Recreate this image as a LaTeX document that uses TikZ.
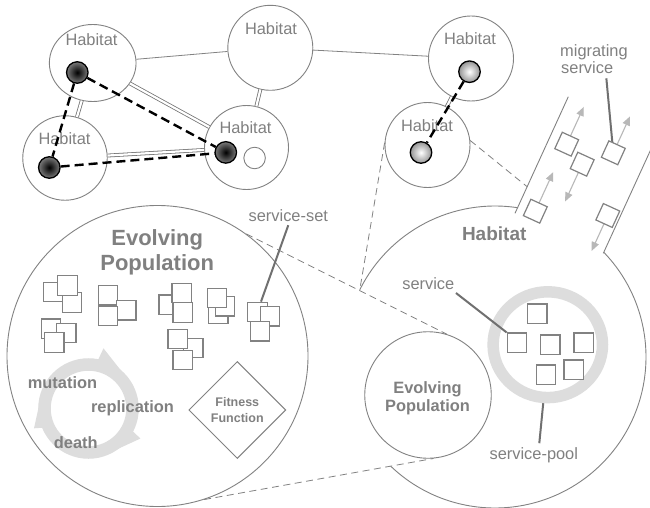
\documentclass[tikz,border=0pt]{standalone}
\usepackage{fontspec}
\setmainfont{Liberation Sans}
\usetikzlibrary{shapes.geometric,arrows.meta,calc}
\definecolor{ln}{HTML}{828282}
\definecolor{tx}{HTML}{808080}
\definecolor{ringc}{HTML}{DDDDDD}
\definecolor{arrc}{HTML}{B8B8B8}
\definecolor{ptrc}{HTML}{707070}
\begin{document}
\begin{tikzpicture}[x=1pt,y=1pt,
  hab/.style={circle,draw=ln,line width=0.9pt,fill=white,inner sep=0pt},
  lbl/.style={text=tx,font=\fontsize{16.4}{19}\selectfont,anchor=base,inner sep=0pt},
  blbl/.style={text=tx,font=\fontsize{16.4}{19}\selectfont\bfseries,anchor=base,inner sep=0pt},
  link/.style={draw=ln,line width=0.8pt},
  dlink/.style={draw=ln!90!black,line width=0.8pt,double=white,double distance=2.2pt},
  migr/.style={draw=black,line width=2.4pt,dash pattern=on 9pt off 5pt},
  dball/.style={circle,draw=black,line width=1.3pt,minimum size=21.5pt,inner sep=0pt,inner color=black,outer color=black!52},
  lball/.style={circle,draw=black,line width=1.3pt,minimum size=21.5pt,inner sep=0pt,inner color=white,outer color=black!42},
  sq/.style={rectangle,draw=ln,line width=1.2pt,fill=white,minimum size=19.5pt,inner sep=0pt},
  msq/.style={sq,minimum size=18pt,rotate=-24.6},
  marr/.style={draw=arrc,line width=1.1pt,-{Triangle[length=9pt,width=7.5pt]}},
  ptr/.style={draw=ptrc,line width=2pt},
  zdash/.style={draw=ln,line width=0.8pt,dash pattern=on 7pt off 4.5pt},
  arcline/.style={draw=ln,line width=0.9pt},
]
\useasboundingbox (0,0) rectangle (650,-508);
\fill[white] (0,0) rectangle (650,-508);

% ---------- top habitats ----------
\node[ellipse,draw=ln,line width=0.9pt,fill=white,inner sep=0pt,minimum width=86.7pt,minimum height=77pt] (A) at (92.7,-63) {};
\node[hab,minimum size=84.5pt] (B) at (65,-158) {};
\node[hab,minimum size=85pt] (C) at (270.3,-47.8) {};
\node[hab,minimum size=84pt] (D) at (246.5,-147.5) {};
\node[hab,minimum size=85pt] (E) at (471,-58.5) {};
\node[hab,minimum size=85pt] (F) at (427.5,-145) {};
\node[lbl] (tA) at (91.5,-45.1) {Habitat};
\node[lbl] (tB) at (64.5,-144.1) {Habitat};
\node[lbl] (tC) at (271,-34.1) {Habitat};
\node[lbl] (tD) at (245.5,-133.5) {Habitat};
\node[lbl] (tE) at (470,-44.1) {Habitat};
\node[lbl] (tF) at (427,-131.5) {Habitat};

% ---------- big circles ----------
\node[hab,minimum size=301pt] (G) at (157.5,-356) {};
\coordinate (Hc) at (495,-357);
\draw[arcline] ($(Hc)+(81.4:151)$) arc[start angle=81.4,end angle=153.6,radius=151];
\draw[arcline] ($(Hc)+(226.3:151)$) arc[start angle=226.3,end angle=403.9,radius=151];
\coordinate (L1) at (568.3,-96.7);
\coordinate (L2) at (515,-213.3);
\coordinate (R2) at (603.3,-253.3);
\coordinate (R1) at ($(R2)+(65.4:135)$);
\draw[arcline] (L1) -- (L2);
\draw[arcline] (R1) -- (R2);
\node[hab,minimum size=126.5pt] (I) at (428,-395) {};

% zoom lines
\coordinate (Hx) at ($(Hc)+(153.6:151)$);
\coordinate (Lx) at ($(L2)!0.228!(L1)$);
\draw[zdash] (F.177) -- (Hx);
\draw[zdash] (F.6) -- (Lx);
\draw[zdash] (G.54) -- (I.73);
\draw[zdash] (G.288) -- (I.275);

% ---------- evolving population (left) ----------
\node[blbl,font=\fontsize{22}{26}\selectfont\bfseries] (gt1) at (157.2,-245) {Evolving};
\node[blbl,font=\fontsize{22}{26}\selectfont\bfseries] (gt2) at (157.2,-270) {Population};

% squares groups
\node[sq] (g1a) at (53.3,-292) {};
\node[sq] (g1c) at (72,-302.5) {};
\node[sq] (g1b) at (67.5,-285.5) {};
\node[sq] (g2a) at (108,-295.3) {};
\node[sq] (g2b) at (126.3,-310.3) {};
\node[sq] (g2c) at (108,-316) {};
\node[sq] (g3a) at (168.7,-304.7) {};
\node[sq] (g3b) at (181.7,-293) {};
\node[sq] (g3c) at (182.7,-312.5) {};
\node[sq] (g4c) at (218.3,-313.7) {};
\node[sq] (g4b) at (225,-306.2) {};
\node[sq] (g4a) at (217,-298) {};
\node[sq] (g5a) at (257.5,-312) {};
\node[sq] (g5b) at (270,-316.3) {};
\node[sq] (g5c) at (260,-331.3) {};
\node[sq] (g6a) at (51,-328.8) {};
\node[sq] (g6b) at (66.3,-333) {};
\node[sq] (g6c) at (54.3,-342.5) {};
\node[sq] (g7b) at (193.3,-348) {};
\node[sq] (g7a) at (177.7,-339) {};
\node[sq] (g7c) at (182.7,-360) {};

\node[lbl] (sslbl) at (288.3,-221.7) {service-set};
\draw[ptr] ([yshift=-3.5pt]sslbl.base) -- ([xshift=3.5pt]g5a.north);

% life cycle
\coordinate (cyc) at (88.5,-408.5);
\draw[ringc,line width=12.5pt] (cyc) circle[radius=44];
\fill[ringc] ($(cyc)+(79:49)$) -- ($(cyc)+(76:62)$) -- ($(cyc)+(40:49)$) -- cycle;
\fill[ringc] ($(cyc)+(203:49)$) -- ($(cyc)+(200:58)$) -- ($(cyc)+(166:49)$) -- cycle;
\fill[ringc] ($(cyc)+(333:49)$) -- ($(cyc)+(330:60)$) -- ($(cyc)+(294:49)$) -- cycle;
\node[blbl] (mut) at (62.5,-388.3) {mutation};
\node[blbl] (rep) at (132.5,-412.3) {replication};
\node[blbl] (dea) at (75.8,-448.3) {death};

\node[diamond,draw=ln,line width=1pt,fill=white,minimum width=97pt,minimum height=97pt,inner sep=0pt,align=center,text=tx,font=\fontsize{12.5}{16.6}\selectfont\bfseries] (FF) at (237.3,-410) {Fitness\\Function};

% ---------- habitat (right) ----------
\node[blbl,font=\fontsize{19}{22}\selectfont\bfseries] (ht) at (494.2,-240) {Habitat};
\node[blbl] (it1) at (427.5,-393) {Evolving};
\node[blbl] (it2) at (427.5,-411.7) {Population};

\coordinate (pc) at (547.8,-344.7);
\node[lbl] (splbl) at (533.8,-459.3) {service-pool};
\draw[ptr] ($(pc)+(265.6:55)$) -- ([xshift=5.5pt,yshift=4pt]splbl.north);
\draw[ringc,line width=11.5pt] (pc) ellipse[x radius=54.7,y radius=52.9];
\node[sq] (p1) at (537.3,-313.7) {};
\node[sq] (p2) at (517,-342.8) {};
\node[sq] (p3) at (550.3,-344.7) {};
\node[sq] (p4) at (583.7,-342.8) {};
\node[sq] (p5) at (546,-374.7) {};
\node[sq] (p6) at (573.7,-369.7) {};
\node[lbl] (svlbl) at (428.3,-289) {service};
\draw[ptr] ([xshift=1.5pt,yshift=-4pt]svlbl.base east) -- (p2.north west);

% ---------- migrating services ----------
\coordinate (s1c) at (566.7,-144.2);
\coordinate (s2c) at (582.2,-164.2);
\coordinate (s3c) at (613.3,-152.8);
\coordinate (s4c) at (535.3,-211.2);
\coordinate (s5c) at (607.8,-215.5);
\draw[marr] (s1c) -- ++(65.4:41);
\draw[marr] (s2c) -- ++(245.4:41);
\draw[marr] (s3c) -- ++(65.4:40);
\draw[marr] (s4c) -- ++(65.4:43);
\draw[marr] (s5c) -- ++(245.4:39);
\node[lbl,anchor=base west] (ms1) at (560,-56.7) {migrating};
\node[lbl,anchor=base west] (ms2) at (561,-73.3) {service};
\draw[ptr] ([xshift=-7pt,yshift=-5pt]ms2.base east) -- (s3c);
\node[msq] (s1) at (s1c) {};
\node[msq] (s2) at (s2c) {};
\node[msq] (s3) at (s3c) {};
\node[msq] (s4) at (s4c) {};
\node[msq] (s5) at (s5c) {};

% ---------- top links ----------
\draw[link] (A) -- (C);
\draw[link] (C) -- (E);
\draw[dlink] (A) -- (D);
\draw[dlink] (A) -- (B);
\draw[dlink] (B) -- (D);
\draw[dlink] (C) -- (D);
\draw[dlink] (E) -- (F);

% balls
\node[dball] (bA) at (77.3,-72.5) {};
\node[dball] (bB) at (49.3,-167.5) {};
\node[dball] (bD) at (225.8,-152.4) {};
\node[hab,minimum size=21.5pt] (wD) at (254.6,-158) {};
\node[lball] (bE) at (469.5,-71.7) {};
\node[lball] (bF) at (421,-152.5) {};
\draw[migr] (bA) -- (bB);
\draw[migr] (bA) -- (bD);
\draw[migr] (bB) -- (bD);
\draw[migr] (bE) -- (bF);
\end{tikzpicture}
\end{document}
